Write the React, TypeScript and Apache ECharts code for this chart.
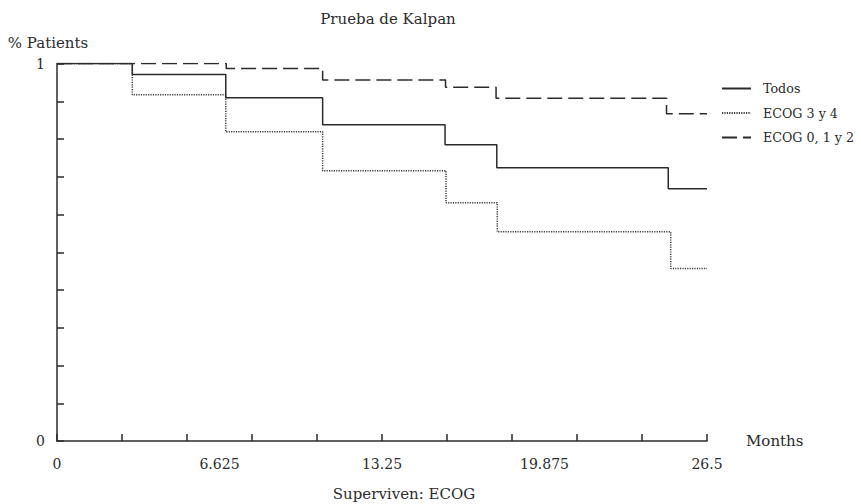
import React, { useEffect, useRef } from "react";
import * as echarts from "echarts";

const seriesNames = ["Todos", "ECOG 3 y 4", "ECOG 0, 1 y 2"];
const todosTimes = [0, 3.07, 6.88, 10.83, 15.82, 17.93, 24.92, 26.5];
const todosValues = [1, 0.971, 0.909, 0.838, 0.785, 0.724, 0.668, 0.668];
const ecog34Times = [0, 3.07, 6.88, 10.83, 15.86, 17.95, 25.02, 26.5];
const ecog34Values = [1, 0.917, 0.819, 0.716, 0.631, 0.554, 0.457, 0.457];
const ecog012Times = [0, 6.9, 10.83, 15.84, 17.9, 24.85, 26.5];
const ecog012Values = [1, 0.987, 0.956, 0.937, 0.908, 0.867, 0.867];
const xLabelTicks = [0, 6.625, 13.25, 19.875, 26.5];
const yLabelTicks = [0, 1];

const FONT = "DejaVu Serif";
const INK = "#2b2b2b";

function pairs(t: number[], v: number[]) {
  return t.map((x, i) => [x, v[i]]);
}

export default function App() {
  const ref = useRef<HTMLDivElement>(null);
  useEffect(() => {
    if (!ref.current) return;
    const chart = echarts.init(ref.current, undefined, { renderer: "svg" });
    const big = { fontFamily: FONT, fontSize: 15, color: INK, fontWeight: "normal" as const };
    const mid = { fontFamily: FONT, fontSize: 14, color: INK };
    const small = { fontFamily: FONT, fontSize: 12.7, color: INK };
    chart.setOption({
      animation: false,
      textStyle: { fontFamily: FONT },
      title: [
        { text: "Prueba de Kalpan", left: 383, top: 6, textAlign: "center", textStyle: big },
        { text: "Superviven: ECOG", left: 399, top: 481, textAlign: "center", textStyle: big },
      ],
      legend: {
        orient: "vertical",
        left: 716,
        top: 77,
        width: 145,
        itemWidth: 29,
        itemHeight: 14,
        itemGap: 11.5,
        itemStyle: { color: "transparent", borderWidth: 0, opacity: 0 },
        textStyle: { ...small, padding: [0, 0, 0, 7] },
        data: seriesNames,
      },
      grid: { left: 57, right: 154, top: 63.5, bottom: 63, containLabel: false },
      xAxis: [
        {
          type: "value",
          position: "bottom",
          min: 0,
          max: 26.5,
          interval: 2.65,
          name: "Months",
          nameLocation: "end",
          nameGap: 39,
          nameTextStyle: { ...big, align: "left", verticalAlign: "middle" },
          axisLine: { lineStyle: { color: INK, width: 1.5 } },
          axisTick: { inside: true, length: 7, lineStyle: { color: INK, width: 1.5 } },
          axisLabel: { show: false },
          splitLine: { show: false },
        },
        {
          type: "value",
          position: "bottom",
          min: 0,
          max: 26.5,
          interval: 6.625,
          axisLine: { show: false },
          axisTick: { show: false },
          axisLabel: {
            ...mid,
            margin: 16,
            formatter: (v: number) => {
              const hit = xLabelTicks.find((t) => Math.abs(t - v) < 1e-6);
              return hit === undefined ? "" : String(hit);
            },
          },
          splitLine: { show: false },
        },
      ],
      yAxis: {
        type: "value",
        min: 0,
        max: 1,
        interval: 0.1,
        name: "% Patients",
        nameLocation: "end",
        nameGap: 21,
        nameTextStyle: { ...big, align: "center", verticalAlign: "middle", padding: [0, 18, 0, 0] },
        axisLine: { show: true, lineStyle: { color: INK, width: 1.5 } },
        axisTick: { show: true, inside: true, length: 7, lineStyle: { color: INK, width: 1.5 } },
        axisLabel: {
          ...mid,
          margin: 12,
          formatter: (v: number) => {
            const hit = yLabelTicks.find((t) => Math.abs(t - v) < 1e-6);
            return hit === undefined ? "" : String(hit);
          },
        },
        splitLine: { show: false },
      },
      series: [
        {
          name: seriesNames[0],
          type: "line",
          step: "end",
          symbol: "none",
          xAxisIndex: 0,
          data: pairs(todosTimes, todosValues),
          lineStyle: { color: INK, width: 1.5, type: "solid" },
          itemStyle: { color: INK },
          z: 3,
        },
        {
          name: seriesNames[1],
          type: "line",
          step: "end",
          symbol: "none",
          xAxisIndex: 0,
          data: pairs(ecog34Times, ecog34Values),
          lineStyle: { color: "#3a3a3a", width: 1.5, type: [1.2, 1.2] },
          itemStyle: { color: "#3a3a3a" },
          z: 2,
        },
        {
          name: seriesNames[2],
          type: "line",
          step: "end",
          symbol: "none",
          xAxisIndex: 0,
          data: pairs(ecog012Times, ecog012Values),
          lineStyle: { color: INK, width: 1.5, type: [15, 6] },
          itemStyle: { color: INK },
          z: 4,
        },
      ],
    });
    return () => chart.dispose();
  }, []);
  return (
    <div
      ref={ref}
      style={{ position: "absolute", left: 0, top: 0, width: 861, height: 504 }}
    />
  );
}
